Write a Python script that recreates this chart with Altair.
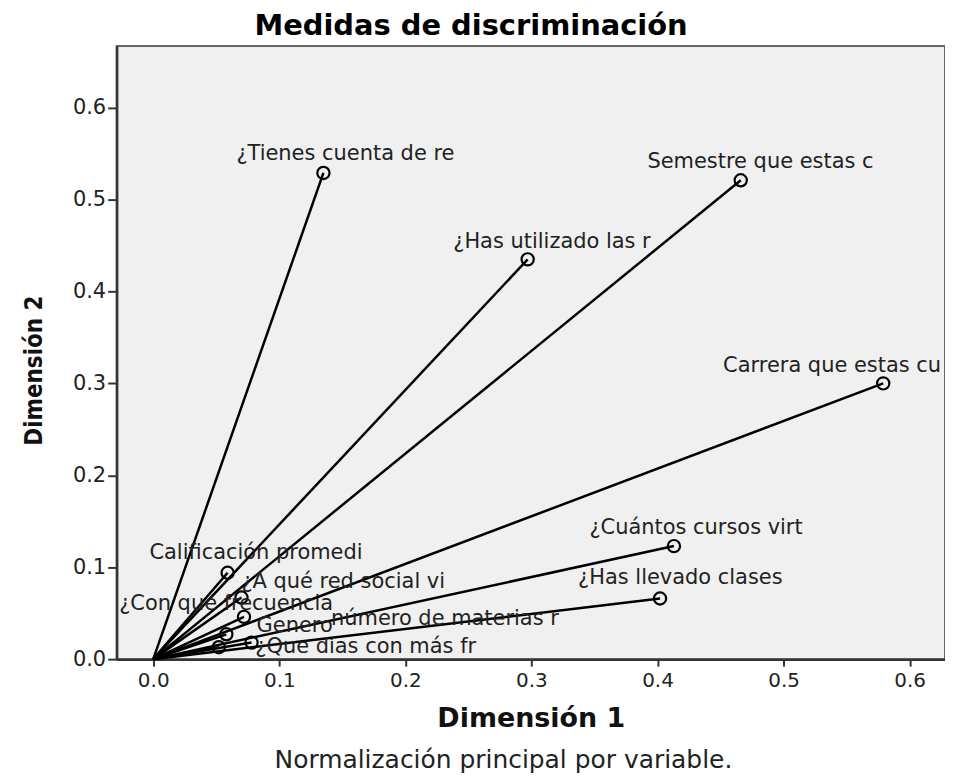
import altair as alt
import pandas as pd

labels = [
    "¿Tienes cuenta de re",
    "Semestre que estas c",
    "¿Has utilizado las r",
    "Carrera que estas cu",
    "¿Cuántos cursos virt",
    "¿Has llevado clases",
    "Calificación promedi",
    "¿A qué red social vi",
    "¿Con que frecuencia",
    "Genero",
    "número de materias r",
    "¿Que días con más fr",
]
dim1 = [0.135, 0.466, 0.297, 0.579, 0.413, 0.402, 0.059, 0.070, 0.072, 0.058, 0.052, 0.078]
dim2 = [0.529, 0.521, 0.435, 0.300, 0.123, 0.066, 0.094, 0.067, 0.046, 0.027, 0.013, 0.018]
# label anchor (left edge, vertical middle) in data units
label_x = [0.066, 0.392, 0.238, 0.452, 0.346, 0.337, -0.003, 0.070, -0.027, 0.082, 0.141, 0.081]
label_y = [0.550, 0.541, 0.454, 0.319, 0.143, 0.088, 0.116, 0.0835, 0.060, 0.036, 0.044, 0.013]
origin = [0.0] * len(labels)

x_ticks = [0.0, 0.1, 0.2, 0.3, 0.4, 0.5, 0.6]
y_ticks = [0.0, 0.1, 0.2, 0.3, 0.4, 0.5, 0.6]
x_domain = [-0.029, 0.628]
y_domain = [0.0, 0.667]

df = pd.DataFrame({
    "label": labels, "d1": dim1, "d2": dim2,
    "lx": label_x, "ly": label_y, "ox": origin, "oy": origin,
})

FONT = "DejaVu Sans"
xs = alt.Scale(domain=x_domain, nice=False, zero=False)
ys = alt.Scale(domain=y_domain, nice=False, zero=False)

x_axis = alt.Axis(
    values=x_ticks, format=".1f", grid=False, tickSize=7, tickWidth=2,
    tickColor="#333", domainColor="#333", domainWidth=2.5,
    labelFont=FONT, labelFontSize=20, labelColor="#222", labelPadding=4,
    titleFont=FONT, titleFontSize=27, titleFontWeight="bold", titleColor="#111",
    titlePadding=16,
)
y_axis = alt.Axis(
    values=y_ticks, format=".1f", grid=False, tickSize=9, tickWidth=2,
    tickColor="#333", domainColor="#333", domainWidth=2.5,
    labelFont=FONT, labelFontSize=21, labelColor="#222", labelPadding=2,
    titleFont="Liberation Sans Narrow, DejaVu Sans Condensed, DejaVu Sans",
    titleFontSize=24, titleFontWeight="bold", titleColor="#111", titlePadding=26,
    titleY=325,
)

base = alt.Chart(df)

rules = base.mark_rule(color="black", strokeWidth=2.5).encode(
    x=alt.X("ox:Q", scale=xs, axis=x_axis, title="Dimensión 1"),
    y=alt.Y("oy:Q", scale=ys, axis=y_axis, title="Dimensión 2"),
    x2="d1:Q",
    y2="d2:Q",
)

points = base.mark_point(
    shape="circle", filled=False, color="black", size=150, strokeWidth=2.2, opacity=1
).encode(
    x=alt.X("d1:Q", scale=xs),
    y=alt.Y("d2:Q", scale=ys),
)

texts = base.mark_text(
    align="left", baseline="middle", font=FONT, fontSize=21, color="#222", clip=True
).encode(
    x=alt.X("lx:Q", scale=xs),
    y=alt.Y("ly:Q", scale=ys),
    text="label:N",
)

foot = alt.Chart(pd.DataFrame({"t": ["Normalización principal por variable."]})).mark_text(
    align="center", baseline="middle", font=FONT, fontSize=25, color="#222"
).encode(
    x=alt.value(388),
    y=alt.value(716),
    text="t:N",
)

chart = alt.layer(rules, points, texts, foot).properties(
    width=831,
    height=615,
    title=alt.TitleParams(
        "Medidas de discriminación", font=FONT, fontSize=29, fontWeight="bold",
        color="black", anchor="middle", dx=-60, offset=5,
    ),
    autosize=alt.AutoSizeParams(type="none"),
    padding={"left": 109, "top": 37, "right": 0, "bottom": 114},
    background="white",
).configure_view(fill="#F0F0F0", stroke="#666", strokeWidth=2)

chart.save("out.html", embed_options={"renderer": "svg", "actions": False})
